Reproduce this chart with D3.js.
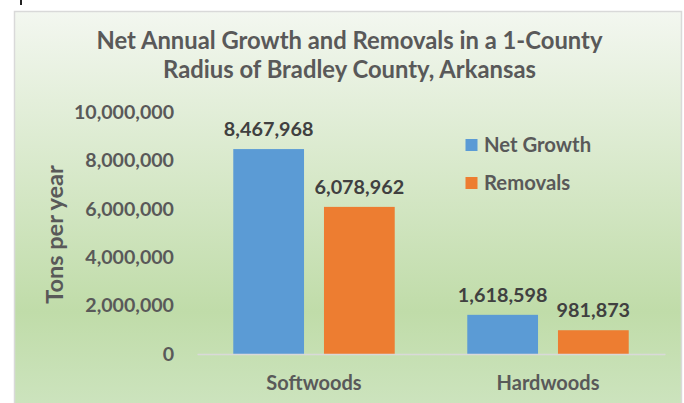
<!DOCTYPE html>
<html><head><meta charset="utf-8">
<script src="https://cdn.jsdelivr.net/npm/d3@7"></script>
<style>body{margin:0;background:#fff;}svg{display:block;}</style>
</head><body>
<script>
const categories = ["Softwoods", "Hardwoods"];
const series = ["Net Growth", "Removals"];
const netGrowth = [8467968, 1618598];
const removals = [6078962, 981873];
const yTicks = [0, 2000000, 4000000, 6000000, 8000000, 10000000];
const titleLines = ["Net Annual Growth and Removals in a 1-County", "Radius of Bradley County, Arkansas"];
const yTitle = "Tons per year";
const colors = ["#5B9BD5", "#ED7D31"];

const W = 684, H = 403;
const svg = d3.select("body").append("svg").attr("width", W).attr("height", H);
const defs = svg.append("defs");
const grad = defs.append("linearGradient").attr("id", "bg").attr("x1", 0).attr("y1", 0).attr("x2", 0).attr("y2", 1);
grad.append("stop").attr("offset", "0%").attr("stop-color", "#f3f7f0");
grad.append("stop").attr("offset", "75%").attr("stop-color", "#c0dca9");
grad.append("stop").attr("offset", "100%").attr("stop-color", "#cde4bf");

svg.append("rect").attr("x", 20).attr("y", 0).attr("width", 2).attr("height", 5).attr("fill", "#222");
svg.append("rect").attr("x", 14.5).attr("y", 11.5).attr("width", 667).attr("height", 400)
  .attr("fill", "url(#bg)").attr("stroke", "#d9d9d9").attr("stroke-width", 1.5);

const font = "Lato, 'Open Sans', sans-serif";
const textColor = "#595959";

const title = svg.append("text").attr("text-anchor", "middle").attr("font-family", font)
  .attr("font-weight", "bold").attr("font-size", 23.8).attr("fill", textColor);
titleLines.forEach((t, i) => title.append("tspan").attr("x", 349.5).attr("y", 49 + i * 29).text(t));

const x0 = d3.scaleBand().domain(categories).range([197, 665]).paddingInner(0).paddingOuter(0);
const x1 = d3.scaleBand().domain(series).range([0, x0.bandwidth()]).paddingInner(0.22).paddingOuter(0.4);
const y = d3.scaleLinear().domain([0, 10000000]).range([354, 112]);

const fmt = d3.format(",");

// y axis
const yAxis = svg.append("g").attr("transform", "translate(174,0)")
  .call(d3.axisLeft(y).tickValues(yTicks).tickFormat(fmt).tickSize(0).tickPadding(0));
yAxis.select(".domain").remove();
yAxis.selectAll("text").attr("font-family", font).attr("font-weight", "bold")
  .attr("font-size", 19.6).attr("fill", textColor);

svg.append("text").attr("transform", "translate(63,234.5) rotate(-90)").attr("text-anchor", "middle")
  .attr("font-family", font).attr("font-weight", "bold").attr("font-size", 23.5).attr("fill", textColor).text(yTitle);

// bars
const data = categories.map((c, i) => ({cat: c, vals: [netGrowth[i], removals[i]]}));
const groups = svg.selectAll("g.cat").data(data).enter().append("g").attr("class", "cat")
  .attr("transform", d => `translate(${x0(d.cat)},0)`);
groups.selectAll("rect").data(d => d.vals.map((v, j) => ({s: series[j], v, j}))).enter().append("rect")
  .attr("x", d => x1(d.s)).attr("width", x1.bandwidth())
  .attr("y", d => y(d.v)).attr("height", d => y(0) - y(d.v)).attr("fill", d => colors[d.j]);
groups.selectAll("text.lbl").data(d => d.vals.map((v, j) => ({s: series[j], v, j}))).enter().append("text")
  .attr("class", "lbl").attr("text-anchor", "middle")
  .attr("x", d => x1(d.s) + x1.bandwidth() / 2).attr("y", d => y(d.v) - 13)
  .attr("font-family", font).attr("font-weight", "bold").attr("font-size", 19.8).attr("fill", "#404040")
  .text(d => fmt(d.v));

// baseline + x axis
const xAxis = svg.append("g").attr("transform", `translate(0,${y(0)})`)
  .call(d3.axisBottom(x0).tickSize(0).tickPadding(22));
xAxis.select(".domain").attr("stroke", "#d9d9d9").attr("stroke-width", 1.5);
xAxis.selectAll("text").attr("font-family", font).attr("font-weight", "bold")
  .attr("font-size", 20).attr("fill", textColor);

// legend
const lg = svg.append("g");
series.forEach((s, i) => {
  lg.append("rect").attr("x", 465.5).attr("y", 139 + i * 38).attr("width", 12).attr("height", 12).attr("fill", colors[i]);
  lg.append("text").attr("x", 484).attr("y", 152 + i * 38).attr("font-family", font).attr("font-weight", "bold")
    .attr("font-size", 20.3).attr("fill", textColor).text(s);
});
</script>
</body></html>
